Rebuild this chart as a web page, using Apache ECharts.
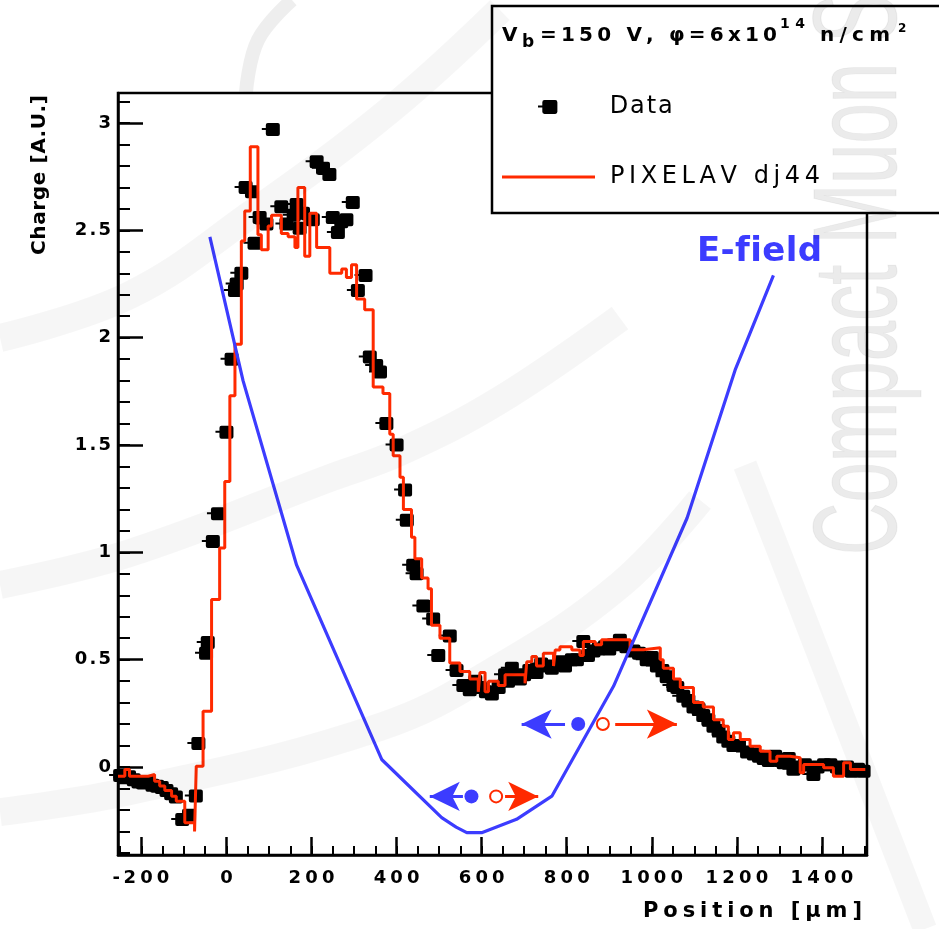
<!DOCTYPE html>
<html>
<head>
<meta charset="utf-8">
<script src="https://cdn.jsdelivr.net/npm/echarts@6/dist/echarts.min.js"></script>
<style>html,body{margin:0;padding:0;background:#fff}#chart{width:939px;height:929px}</style>
</head>
<body>
<div id="chart"></div>
<script>
// ---------------- data ----------------
const xRange = [-255, 1506];
const yRange = [-0.41, 3.14];
const xMajorTicks = [-200, 0, 200, 400, 600, 800, 1000, 1200, 1400];
const xMinorTicks = [-250,-200,-150,-100,-50,0,50,100,150,200,250,300,350,400,450,500,550,600,650,700,750,800,850,900,950,1000,1050,1100,1150,1200,1250,1300,1350,1400,1450,1500];
const yMajorTicks = [0, 0.5, 1, 1.5, 2, 2.5, 3];
const yMinorTicks = [-0.4,-0.3,-0.2,-0.1,0,0.1,0.2,0.3,0.4,0.5,0.6,0.7,0.8,0.9,1,1.1,1.2,1.3,1.4,1.5,1.6,1.7,1.8,1.9,2,2.1,2.2,2.3,2.4,2.5,2.6,2.7,2.8,2.9,3,3.1];

// measured charge (black markers): [position um, charge]
const dataPoints = [
 [-250,-0.04],[-240,-0.05],[-229,-0.045],[-218,-0.06],[-207,-0.07],[-196,-0.075],[-185,-0.07],[-174,-0.085],
 [-163,-0.09],[-152,-0.095],[-141,-0.11],[-130,-0.125],[-119,-0.14],[-104,-0.245],[-88,-0.225],[-72,-0.135],
 [-66,0.11],[-48,0.53],[-44,0.58],[-32,1.05],[-20,1.18],[0,1.56],[12,1.90],[20,2.22],[24,2.25],[35,2.30],
 [45,2.70],[60,2.68],[66,2.44],[78,2.56],[94,2.53],[109,2.97],[129,2.61],[141,2.53],[158,2.57],[165,2.62],
 [172,2.51],[180,2.58],[203,2.55],[212,2.82],[227,2.79],[242,2.76],[250,2.56],[262,2.49],[270,2.54],[282,2.55],
 [297,2.63],[309,2.22],[327,2.29],[337,1.91],[352,1.87],[361,1.84],[376,1.60],[400,1.50],[420,1.29],[424,1.15],
 [439,0.94],[447,0.90],[463,0.75],[486,0.69],[498,0.52],[525,0.61],[541,0.45],[557,0.38],[572,0.36],[585,0.40],
 [596,0.37],[610,0.35],[624,0.34],[640,0.37],[655,0.43],[662,0.40],[671,0.46],[690,0.41],[700,0.43],[712,0.45],
 [729,0.44],[740,0.48],[753,0.47],[765,0.46],[784,0.49],[796,0.47],[812,0.50],[824,0.50],[839,0.585],[850,0.52],
 [863,0.54],[875,0.55],[890,0.56],[900,0.55],[910,0.57],[925,0.59],[940,0.56],[957,0.54],[970,0.53],[988,0.50],
 [1000,0.51],[1012,0.47],[1025,0.45],[1035,0.42],[1051,0.38],[1060,0.37],[1074,0.33],[1086,0.31],[1098,0.28],
 [1110,0.27],[1121,0.24],[1133,0.22],[1145,0.19],[1157,0.17],[1168,0.14],[1180,0.12],[1192,0.10],[1205,0.10],
 [1224,0.07],[1240,0.06],[1252,0.05],[1263,0.04],[1275,0.03],[1290,0.05],[1302,0.03],[1310,0.02],[1322,0.04],
 [1333,-0.01],[1345,0.0],[1360,0.01],[1380,-0.035],[1390,0.0],[1405,0.01],[1420,0.01],[1435,0.0],[1447,-0.01],
 [1459,0.0],[1470,-0.02],[1485,-0.01],[1498,-0.02]
];

// PIXELAV simulation histogram: lower bin edges and bin contents
const simEdges = [-255,-239,-228,-184,-169,-157,-145,-129,-118,-98,-75,-71,-55,-35,-16,-4,8,20,35,43,56,74,82,98,106,129,145,161,168,184,196,212,243,271,282,294,306,325,345,368,384,392,408,416,435,443,459,474,482,502,525,549,572,592,596,608,616,639,655,702,706,718,729,745,769,773,784,812,831,839,867,882,949,980,1020,1027,1051,1067,1098,1121,1145,1168,1180,1192,1208,1231,1255,1278,1294,1325,1349,1357,1404,1427,1451,1467];
const simValues = [-0.043,-0.012,-0.043,-0.035,-0.066,-0.089,-0.11,-0.136,-0.16,-0.26,-0.30,0.004,0.26,0.78,1.02,1.33,1.73,1.97,2.45,2.59,2.89,2.48,2.41,2.52,2.57,2.485,2.47,2.42,2.70,2.38,2.58,2.42,2.30,2.32,2.28,2.34,2.18,2.13,1.77,1.74,1.55,1.45,1.35,1.20,1.07,0.97,0.88,0.83,0.66,0.60,0.485,0.445,0.41,0.35,0.44,0.35,0.40,0.38,0.43,0.39,0.49,0.515,0.47,0.53,0.47,0.545,0.56,0.545,0.52,0.585,0.57,0.593,0.546,0.555,0.50,0.46,0.41,0.37,0.30,0.28,0.22,0.19,0.128,0.16,0.128,0.097,0.073,0.027,0.05,0.043,-0.027,0.012,-0.004,-0.043,0.02,-0.012];
const simLastEdge = 1502;

// E-field sketch (blue)
const eFieldPoints = [[-39,2.47],[39,1.80],[165,0.94],[365,0.035],[506,-0.236],[540,-0.28],[565,-0.306],[600,-0.306],[682,-0.244],[765,-0.136],[910,0.376],[1083,1.16],[1196,1.85],[1286,2.29]];

// drift annotations (electrons blue, holes red)
const electronDots = [[576,-0.137],[827,0.2]];
const holeDots = [[634,-0.137],[885,0.2]];
const electronArrows = [[[556,-0.137],[478,-0.137]],[[796,0.2],[694,0.2]]];
const holeArrows = [[[655,-0.137],[733,-0.137]],[[914,0.2],[1059,0.2]]];

const seriesNames = ['Data', 'PIXELAV dj44'];
const headerParts = ['V', 'b', '=150 V, \u03c6=6x10', '14', 'n/cm', '2'];

// ---------------- styling helpers ----------------
const FONT = "'DejaVu Sans', 'Liberation Sans', Arial, sans-serif";
const BLUE = '#3c3cff';
const RED = '#ff2a00';
const mctx = document.createElement('canvas').getContext('2d');

function spaced(str, size, weight, target, color) {
  mctx.font = weight + ' ' + size + 'px ' + FONT;
  const chars = Array.from(str);
  const w = chars.map(c => mctx.measureText(c).width);
  const nat = w.reduce((a, b) => a + b, 0);
  let extra = (target == null || chars.length < 2) ? 0 : (target - nat) / (chars.length - 1);
  if (extra < 0) extra = 0;
  const rich = {};
  let text = '';
  chars.forEach((c, i) => {
    const k = 'c' + i;
    rich[k] = {width: w[i] + (i < chars.length - 1 ? extra : 0), align: 'left',
      fontSize: size, fontWeight: weight, fontFamily: FONT, color: color || '#000', fill: color || '#000'};
    text += '{' + k + '|' + c + '}';
  });
  return {text, rich};
}

function textEl(str, x, y, o) {
  const r = spaced(str, o.size, o.weight || 'normal', o.width, o.color);
  return {
    type: 'text', x: x, y: y, rotation: o.rotation || 0, z: o.z || 60, silent: true,
    style: {text: r.text, rich: r.rich, fill: o.color || '#000', fontSize: o.size,
      fontWeight: o.weight || 'normal', fontFamily: FONT,
      align: o.align || 'left', verticalAlign: o.vAlign || 'middle'}
  };
}

const TK = {fontSize: 18, fontWeight: 'bold', fontFamily: FONT, color: '#000'};
const tickRich = {
  d: Object.assign({width: 16.7, align: 'center'}, TK),
  p: Object.assign({width: 7, align: 'center'}, TK),
  m: Object.assign({width: 10, align: 'center'}, TK)
};
function tickFmt(v) {
  return Array.from(String(v)).map(c => '{' + (c === '.' ? 'p' : c === '-' ? 'm' : 'd') + '|' + c + '}').join('');
}

const dataLeg = spaced(seriesNames[0], 24, 'normal', 63);
const simLeg = spaced(seriesNames[1], 24, 'normal', 210);

const markerPath = 'path://M0,5H4V2Q4,0 6,0H16Q18,0 18,2V11Q18,13 16,13H6Q4,13 4,11V7H0Z';

const simSteps = simEdges.map((e, i) => [e, simValues[i]]);
simSteps.push([simLastEdge, simValues[simValues.length - 1]]);

function band(points, width, color) {
  return {type: 'polyline', silent: true, z: 100,
    shape: {points: points, smooth: 0.4},
    style: {stroke: color || 'rgba(0,0,0,0.037)', lineWidth: width, fill: null}};
}

const option = {
  backgroundColor: '#fff',
  animation: false,
  grid: {left: 118, top: 93, width: 749, height: 762, show: true, borderColor: '#000', borderWidth: 2.5,
    backgroundColor: 'transparent', containLabel: false, outerBoundsMode: 'none'},
  xAxis: [
    {type: 'value', min: xRange[0], max: xRange[1], position: 'bottom',
      axisLine: {show: true, onZero: false, lineStyle: {color: '#000', width: 2.5}},
      axisTick: {show: true, inside: true, length: 18, customValues: xMajorTicks, lineStyle: {color: '#000', width: 2.5}},
      axisLabel: {show: true, customValues: xMajorTicks, margin: 14, formatter: tickFmt, rich: tickRich,
        fontSize: 18, fontWeight: 'bold', fontFamily: FONT, color: '#000'},
      splitLine: {show: false}},
    {type: 'value', min: xRange[0], max: xRange[1], position: 'bottom', gridIndex: 0,
      axisLine: {show: false, onZero: false},
      axisTick: {show: true, inside: true, length: 9, customValues: xMinorTicks, lineStyle: {color: '#000', width: 2}},
      axisLabel: {show: false}, splitLine: {show: false}}
  ],
  yAxis: [
    {type: 'value', min: yRange[0], max: yRange[1], position: 'left',
      axisLine: {show: true, onZero: false, lineStyle: {color: '#000', width: 2.5}},
      axisTick: {show: true, inside: true, length: 25, customValues: yMajorTicks, lineStyle: {color: '#000', width: 2.5}},
      axisLabel: {show: true, customValues: yMajorTicks, margin: 5, formatter: tickFmt, rich: tickRich,
        fontSize: 18, fontWeight: 'bold', fontFamily: FONT, color: '#000'},
      splitLine: {show: false}},
    {type: 'value', min: yRange[0], max: yRange[1], position: 'left', gridIndex: 0,
      axisLine: {show: false, onZero: false},
      axisTick: {show: true, inside: true, length: 12, customValues: yMinorTicks, lineStyle: {color: '#000', width: 2}},
      axisLabel: {show: false}, splitLine: {show: false}}
  ],
  legend: [
    {data: [seriesNames[0]], left: 538, top: 95, padding: 0, itemWidth: 20, itemHeight: 14, selectedMode: false, z: 60,
      formatter: () => '{sp| }' + dataLeg.text,
      textStyle: {rich: Object.assign({sp: {width: 47}}, dataLeg.rich), fontSize: 24, fontFamily: FONT, color: '#000'}},
    {data: [{name: seriesNames[1], icon: 'rect'}], left: 502, top: 165, padding: 0, itemWidth: 93, itemHeight: 3,
      selectedMode: false, z: 60,
      formatter: () => '{sp| }' + simLeg.text,
      textStyle: {rich: Object.assign({sp: {width: 10}}, simLeg.rich), fontSize: 24, fontFamily: FONT, color: '#000'}}
  ],
  series: [
    {type: 'scatter', name: seriesNames[0], data: dataPoints, symbol: markerPath, symbolSize: [18, 13],
      symbolOffset: [-2, 0], itemStyle: {color: '#000', opacity: 1}, z: 3, silent: true},
    {type: 'line', name: seriesNames[1], data: simSteps, step: 'end', symbol: 'none', showSymbol: false,
      lineStyle: {color: RED, width: 3}, itemStyle: {color: RED}, z: 4, silent: true},
    {type: 'line', name: 'E-field', data: eFieldPoints, symbol: 'none', showSymbol: false,
      lineStyle: {color: BLUE, width: 3.2}, itemStyle: {color: BLUE}, z: 5, silent: true},
    {type: 'line', name: 'electron drift', data: [], symbol: 'none', z: 6,
      markLine: {silent: true, symbol: ['none', 'arrow'], label: {show: false}, emphasis: {disabled: true},
        lineStyle: {color: BLUE, width: 3, type: 'solid'},
        data: electronArrows.map(a => [{coord: a[0]}, {coord: a[1], symbolSize: [22, 30]}])}},
    {type: 'line', name: 'hole drift', data: [], symbol: 'none', z: 6,
      markLine: {silent: true, symbol: ['none', 'arrow'], label: {show: false}, emphasis: {disabled: true},
        lineStyle: {color: RED, width: 3, type: 'solid'},
        data: holeArrows.map(a => [{coord: a[0]}, {coord: a[1], symbolSize: [22, 30]}])}},
    {type: 'scatter', name: 'electrons', data: electronDots, symbol: 'circle', symbolSize: 14,
      itemStyle: {color: BLUE, opacity: 1}, z: 7, silent: true},
    {type: 'scatter', name: 'holes', data: holeDots, symbol: 'circle', symbolSize: 12,
      itemStyle: {color: '#fff', borderColor: RED, borderWidth: 2, opacity: 1}, z: 7, silent: true}
  ],
  graphic: {elements: [
    // legend box
    {type: 'rect', silent: true, z: 50, shape: {x: 492, y: 6, width: 470, height: 207},
      style: {fill: '#fff', stroke: '#000', lineWidth: 2.5}},
    textEl(headerParts[0], 502, 36, {size: 20, weight: 'bold'}),
    textEl(headerParts[1], 522, 43, {size: 17, weight: 'bold'}),
    textEl(headerParts[2], 540, 36, {size: 20, weight: 'bold', width: 237}),
    textEl(headerParts[3], 780, 24, {size: 14, weight: 'bold', width: 25}),
    textEl(headerParts[4], 820, 36, {size: 20, weight: 'bold', width: 70}),
    textEl(headerParts[5], 898, 29, {size: 12, weight: 'bold'}),
    // labels
    textEl('E-field', 697, 252, {size: 34, weight: 'bold', width: 125, color: BLUE}),
    textEl('Position [\u03bcm]', 643, 912, {size: 21, weight: 'bold', width: 219}),
    textEl('Charge [A.U.]', 40, 95, {size: 20, weight: 'bold', width: 160, rotation: Math.PI / 2, align: 'right'}),
    // watermark (translucent overlay)
    band([[0,338],[130,295],[250,215],[390,110],[500,10]], 28),
    band([[0,585],[130,553],[330,478],[400,452],[500,400],[620,318]], 28),
    band([[0,812],[130,791],[380,727],[500,667],[620,585],[700,500]], 28),
    band([[745,465],[790,580],[880,813],[925,929]], 24),
    band([[292,0],[258,40],[246,92]], 14, 'rgba(0,0,0,0.065)'),
    {type: 'text', silent: true, z: 100, x: 863, y: 555, rotation: Math.PI / 2, scaleX: 0.61,
      style: {text: 'Compact Muon Solenoid', fill: 'rgba(0,0,0,0.08)', stroke: 'rgba(0,0,0,0.05)', lineWidth: 1.2,
        fontSize: 119, fontFamily: "'Liberation Sans', Arial, sans-serif", align: 'left', verticalAlign: 'middle'}}
  ]}
};

const chart = echarts.init(document.getElementById('chart'), null, {renderer: 'canvas'});
chart.setOption(option);
</script>
</body>
</html>
